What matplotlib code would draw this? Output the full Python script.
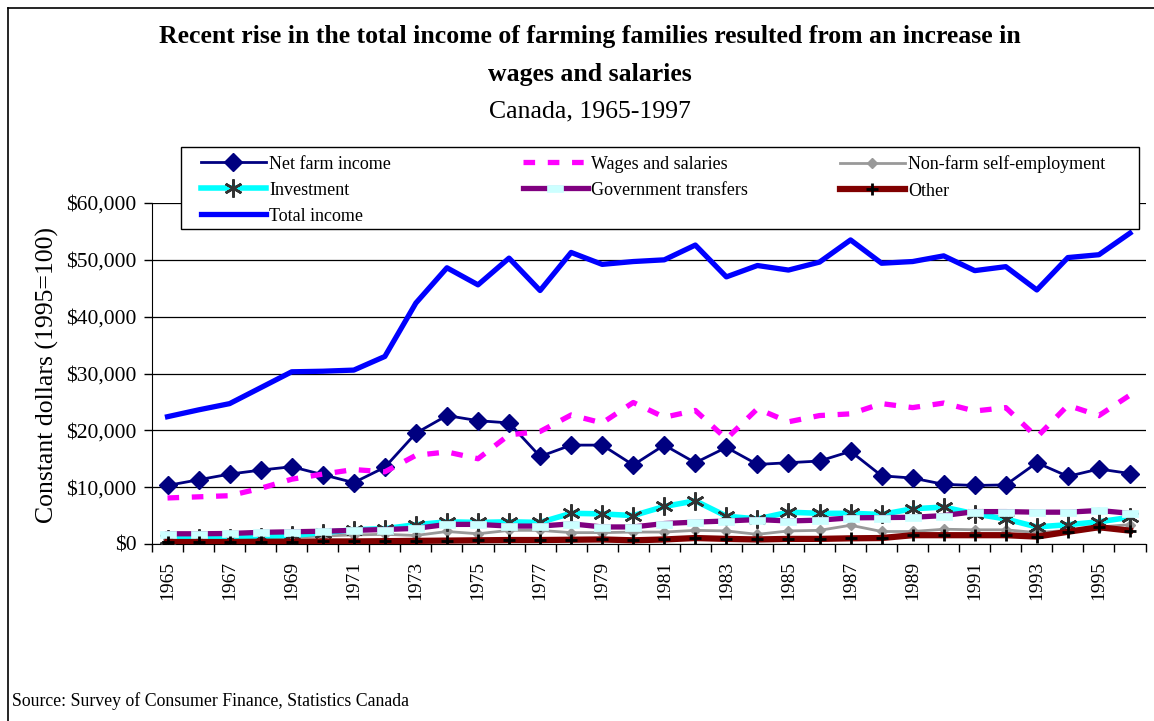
import numpy as np
import matplotlib
matplotlib.use("Agg")
import matplotlib.pyplot as plt
from matplotlib.lines import Line2D
from matplotlib.patches import Rectangle
from matplotlib.path import Path

plt.rcParams['font.family'] = ['Liberation Serif', 'DejaVu Serif']

# data (constant 1995 dollars)
years = list(range(1965, 1997))

net_farm = [10300, 11300, 12300, 13000, 13600, 12200, 10800, 13500, 19500, 22600,
            21700, 21300, 15400, 17400, 17400, 13900, 17400, 14300, 17000, 14000,
            14300, 14600, 16300, 12000, 11600, 10500, 10300, 10400, 14300, 11900,
            13200, 12400]
wages = [8100, 8300, 8500, 9800, 11400, 12300, 13100, 12700, 15600, 16200,
         15000, 19200, 19800, 22700, 21300, 24900, 22300, 23500, 18500, 23800,
         21500, 22600, 22900, 24700, 24000, 24800, 23400, 24000, 18800, 24400,
         22600, 26200]
non_farm = [900, 950, 1000, 1100, 1200, 1400, 1600, 1700, 1500, 2200,
            1800, 2400, 2400, 2000, 2000, 2100, 2100, 2400, 2300, 1700,
            2300, 2400, 3300, 2200, 2200, 2600, 2500, 2500, 2000, 2400,
            3000, 3400]
investment = [900, 1000, 1100, 1300, 1500, 2000, 2500, 2700, 3400, 3900,
              3800, 3900, 3800, 5400, 5300, 5000, 6600, 7600, 4900, 4400,
              5600, 5400, 5400, 5200, 6200, 6500, 5300, 4400, 3000, 3400,
              3900, 4700]
govt = [1800, 1800, 1850, 2050, 2150, 2250, 2400, 2550, 2750, 3450,
        3450, 3150, 3150, 3550, 3000, 3000, 3600, 3850, 4050, 4300,
        4050, 4200, 4600, 4650, 4700, 5000, 5700, 5700, 5600, 5600,
        5900, 5400]
other = [350, 350, 350, 400, 400, 450, 450, 500, 550, 600,
         650, 700, 700, 750, 800, 650, 800, 1050, 900, 800,
         900, 900, 1000, 1050, 1550, 1550, 1550, 1550, 1300, 2150,
         2950, 2350]
total = [22400, 23600, 24700, 27500, 30300, 30400, 30600, 33000, 42400, 48600,
         45600, 50300, 44600, 51300, 49200, 49700, 50000, 52600, 47000, 49000,
         48200, 49600, 53500, 49400, 49700, 50700, 48100, 48800, 44700, 50400,
         50900, 54700]

y_ticks = [0, 10000, 20000, 30000, 40000, 50000, 60000]
y_tick_labels = ['$0', '$10,000', '$20,000', '$30,000', '$40,000', '$50,000', '$60,000']

W, H = 1154, 721
fig = plt.figure(figsize=(W / 100, H / 100), dpi=100)
ax = fig.add_axes([152 / W, 1 - 544 / H, (1145.5 - 152) / W, (544 - 203) / H])

x = np.arange(len(years))

# rectangle "dash" marker like Excel's
dash = Path([(-1, -0.42), (1, -0.42), (1, 0.42), (-1, 0.42), (-1, -0.42)],
            [Path.MOVETO, Path.LINETO, Path.LINETO, Path.LINETO, Path.CLOSEPOLY])

h_net, = ax.plot(x, net_farm, color='#000080', lw=2, marker='D', ms=9.5,
                 mfc='#000080', mec='#000080', zorder=3, label='Net farm income')
h_wag, = ax.plot(x, wages, color='#FF00FF', lw=3.8, dashes=(2.2, 2.4),
                 zorder=3.1, label='Wages and salaries')
h_nf, = ax.plot(x, non_farm, color='#999999', lw=2, marker='D', ms=5,
                mfc='#999999', mec='#999999', zorder=3.2, label='Non-farm self-employment')
h_inv, = ax.plot(x, investment, color='#00FFFF', lw=4, marker=(6, 2, 0), ms=13,
                 mec='#333333', mew=1.8, zorder=3.3, label='Investment')
h_gov, = ax.plot(x, govt, color='#800080', lw=3.8, marker=dash, ms=12,
                 mfc='#CCFFFF', mec='#CCFFFF', mew=0.5, zorder=3.4, label='Government transfers')
h_oth, = ax.plot(x, other, color='#800000', lw=4.5, marker='+', ms=9,
                 mec='black', mew=2, zorder=3.5, label='Other')
h_tot, = ax.plot(x, total, color='#0000FF', lw=3.8, zorder=3.6, label='Total income')

ax.set_xlim(-0.5, len(years) - 0.5)
ax.set_ylim(0, 60000)
ax.set_yticks(y_ticks)
ax.set_yticklabels(y_tick_labels, fontsize=15.5)
ax.set_xticks(x[::2])
ax.set_xticklabels([str(y) for y in years[::2]], rotation=90, fontsize=14)
ax.set_xticks(np.arange(len(years) + 1) - 0.5, minor=True)
ax.tick_params(axis='x', which='major', length=0, pad=12)
ax.tick_params(axis='x', which='minor', length=6, direction='out', width=1)
ax.tick_params(axis='y', length=6, direction='out', width=1, pad=5)

ax.grid(axis='y', color='black', lw=0.9)
ax.set_axisbelow(True)
ax.spines['top'].set_visible(False)
ax.spines['right'].set_visible(False)
ax.spines['left'].set_color('black')
ax.spines['bottom'].set_color('black')

# titles
fig.text(590 / W, 1 - 37 / H, 'Recent rise in the total income of farming families resulted from an increase in',
         ha='center', va='center', fontsize=18.5, fontweight='bold')
fig.text(590 / W, 1 - 75 / H, 'wages and salaries', ha='center', va='center',
         fontsize=18.5, fontweight='bold')
fig.text(590 / W, 1 - 111 / H, 'Canada, 1965-1997', ha='center', va='center', fontsize=18.5)
fig.text(47 / W, 1 - 375 / H, 'Constant dollars (1995=100)', rotation=90,
         ha='center', va='center', fontsize=18.5)
fig.text(12 / W, 1 - 701 / H, 'Source: Survey of Consumer Finance, Statistics Canada',
         ha='left', va='center', fontsize=12.8)

# legend box and three columns
fig.add_artist(Rectangle((181 / W, 1 - 229 / H), (1139 - 181) / W, (229 - 147) / H,
                         transform=fig.transFigure, facecolor='white', edgecolor='black',
                         lw=1, zorder=5))
cols = [([h_net, h_inv, h_tot], 197), ([h_wag, h_gov], 519), ([h_nf, h_oth], 836)]
for hs, x0 in cols:
    fig.legend(handles=hs, labels=[h.get_label() for h in hs], loc='upper left',
               bbox_to_anchor=(x0 / W, 1 - 152 / H), frameon=False, fontsize=13,
               handlelength=3.6, handletextpad=0.2, labelspacing=0.5,
               borderpad=0.2, borderaxespad=0).set_zorder(6)

# outer frame
fig.add_artist(Line2D([8 / W, 8 / W], [0, 1 - 8 / H], color='black', lw=1.2))
fig.add_artist(Line2D([8 / W, 1], [1 - 8 / H, 1 - 8 / H], color='black', lw=1.2))

fig.savefig('out.png', dpi=100)
